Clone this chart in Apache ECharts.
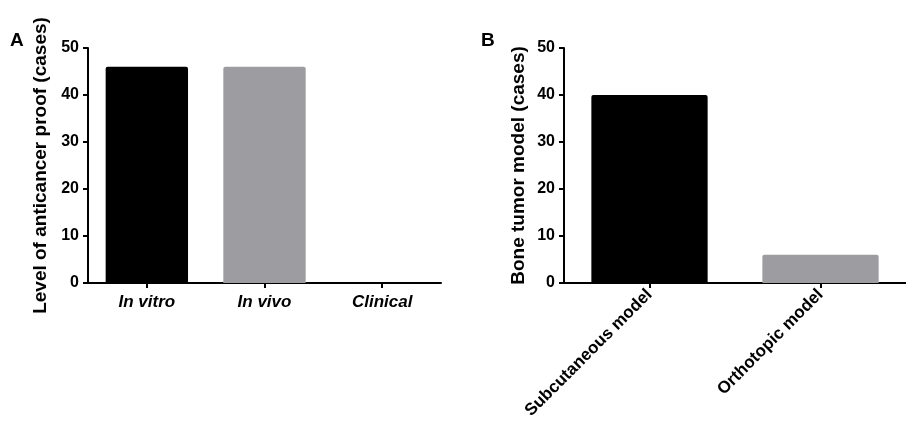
<!DOCTYPE html>
<html><head><meta charset="utf-8">
<script src="https://cdn.jsdelivr.net/npm/echarts@6/dist/echarts.min.js"></script>
<style>html,body{margin:0;padding:0;background:#fff}#c{width:906px;height:426px}</style>
</head><body><div id="c"></div>
<script>
const catsA = ['In vitro', 'In vivo', 'Clinical'];
const valsA = [46, 46, 0];
const catsB = ['Subcutaneous model', 'Orthotopic model'];
const valsB = [40, 6];
const yTicks = [0, 10, 20, 30, 40, 50];
const colors = ['#000000', '#9d9ca1', '#9d9ca1'];

const font = 'Liberation Sans, Arial, sans-serif';
const chart = echarts.init(document.getElementById('c'));
const axisLine = {show: true, lineStyle: {color: '#000', width: 2}};
const axisTick = {show: true, length: 5, lineStyle: {color: '#000', width: 2}};
function yAxis(i, name, gap) {
  return {
    type: 'value', gridIndex: i, min: yTicks[0], max: yTicks[yTicks.length - 1], interval: 10,
    name: name, nameLocation: 'middle', nameGap: gap,
    nameTextStyle: {fontFamily: font, fontWeight: 'bold', fontSize: 19, color: '#000'},
    axisLine: axisLine, axisTick: axisTick, splitLine: {show: false},
    axisLabel: {fontFamily: font, fontWeight: 'bold', fontSize: 16, color: '#000', margin: 9}
  };
}
chart.setOption({
  animation: false,
  grid: [
    {left: 88, top: 48, width: 353, bottom: 143},
    {left: 564, top: 48, width: 352, bottom: 143}
  ],
  xAxis: [
    {type: 'category', gridIndex: 0, data: catsA, axisLine: axisLine, axisTick: Object.assign({alignWithLabel: true}, axisTick),
     axisLabel: {fontFamily: font, fontWeight: 'bold', fontStyle: 'italic', fontSize: 17, color: '#000', margin: 11}},
    {type: 'category', gridIndex: 1, data: catsB, axisLine: axisLine, axisTick: Object.assign({alignWithLabel: true}, axisTick),
     axisLabel: {fontFamily: font, fontWeight: 'bold', fontSize: 17, color: '#000', rotate: 45, margin: 9}}
  ],
  yAxis: [
    yAxis(0, 'Level of anticancer proof (cases)', 38),
    yAxis(1, 'Bone tumor model (cases)', 36)
  ],
  series: [
    {type: 'bar', xAxisIndex: 0, yAxisIndex: 0, barCategoryGap: '30%',
     data: valsA.map((v, i) => ({value: v, itemStyle: {color: colors[i], borderRadius: [2, 2, 0, 0]}}))},
    {type: 'bar', xAxisIndex: 1, yAxisIndex: 1, barCategoryGap: '32%',
     data: valsB.map((v, i) => ({value: v, itemStyle: {color: colors[i], borderRadius: [2, 2, 0, 0]}}))}
  ],
  graphic: [
    {type: 'text', left: 10, top: 31, style: {text: 'A', font: 'bold 19px ' + font, fill: '#000'}},
    {type: 'text', left: 481, top: 31, style: {text: 'B', font: 'bold 19px ' + font, fill: '#000'}}
  ]
});
</script></body></html>
